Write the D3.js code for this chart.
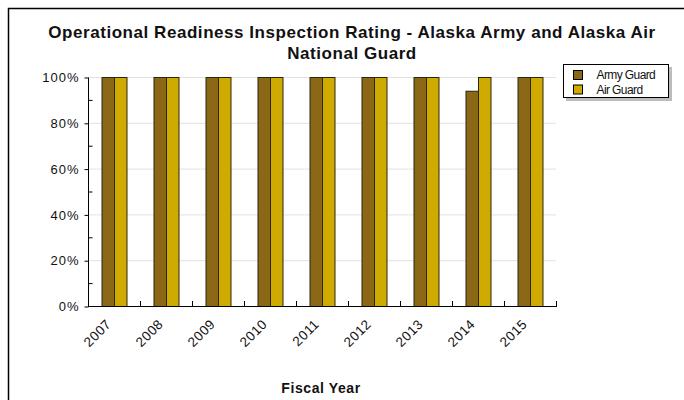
<!DOCTYPE html>
<html>
<head>
<meta charset="utf-8">
<script src="https://cdn.jsdelivr.net/npm/d3@7"></script>
<style>
  html, body { margin: 0; padding: 0; background: #fff; }
  svg { display: block; font-family: "Liberation Sans", Arial, sans-serif; }
</style>
</head>
<body>
<svg id="chart" width="684" height="400"></svg>
<script>
const years = ["2007","2008","2009","2010","2011","2012","2013","2014","2015"];
const seriesNames = ["Army Guard", "Air Guard"];
const armyGuard = [100, 100, 100, 100, 100, 100, 100, 94, 100];
const airGuard  = [100, 100, 100, 100, 100, 100, 100, 100, 100];
const yTicks = [0, 20, 40, 60, 80, 100];
const yMinorTicks = [10, 30, 50, 70, 90];
const colors = ["#8a6816", "#cfab00"];
const titleLines = ["Operational Readiness Inspection Rating - Alaska Army and Alaska Air", "National Guard"];
const xTitle = "Fiscal Year";

const svg = d3.select("#chart");
const m = {left: 88, right: 556, top: 77, bottom: 306};

// outer frame
svg.append("rect").attr("x", 8.5).attr("y", 8.5).attr("width", 700).attr("height", 420)
  .attr("fill", "none").attr("stroke", "#000").attr("stroke-width", 1.5);

const x = d3.scaleBand().domain(years).range([m.left, m.right]).paddingInner(0).paddingOuter(0);
const y = d3.scaleLinear().domain([0, 100]).range([m.bottom, m.top]);

// gridlines
svg.append("g").selectAll("line").data(yTicks.filter(d => d > 0)).join("line")
  .attr("x1", m.left).attr("x2", m.right)
  .attr("y1", d => y(d) + 0.5).attr("y2", d => y(d) + 0.5)
  .attr("stroke", "#e2e2e2").attr("stroke-width", 1);

// bars
const bw = 12.5;
const data = years.map((yr, i) => ({yr, vals: [armyGuard[i], airGuard[i]]}));
const groups = svg.append("g").selectAll("g").data(data).join("g");
groups.selectAll("rect").data(d => d.vals.map((v, k) => ({yr: d.yr, v, k}))).join("rect")
  .attr("x", d => x(d.yr) + x.bandwidth() / 2 - bw + d.k * bw + 0.5)
  .attr("y", d => y(d.v) + 0.5)
  .attr("width", bw)
  .attr("height", d => y(0) - y(d.v))
  .attr("fill", d => colors[d.k])
  .attr("stroke", "#2b2410").attr("stroke-width", 1);

// y axis
const yAxis = d3.axisLeft(y).tickValues(yTicks).tickFormat(d => d + "%").tickSize(4).tickPadding(5);
const gy = svg.append("g").attr("transform", `translate(${m.left + 0.5},0.5)`).call(yAxis);
gy.select(".domain").attr("stroke", "#000").attr("d", `M0,${m.top}V${m.bottom}`);
gy.selectAll("text").attr("font-size", 13).attr("letter-spacing", 1).attr("fill", "#111")
  .attr("font-family", "Liberation Sans, Arial, sans-serif");
// minor inward ticks
svg.append("g").selectAll("line").data(yMinorTicks).join("line")
  .attr("x1", m.left + 0.5).attr("x2", m.left + 4.5)
  .attr("y1", d => y(d) + 0.5).attr("y2", d => y(d) + 0.5)
  .attr("stroke", "#000");

// x axis
const bounds = years.map(d => x(d)).concat([m.right]);
svg.append("line").attr("x1", m.left).attr("x2", m.right + 1)
  .attr("y1", m.bottom + 0.5).attr("y2", m.bottom + 0.5).attr("stroke", "#000");
svg.append("g").selectAll("line").data(bounds.slice(1)).join("line")
  .attr("x1", d => Math.round(d) + 0.5).attr("x2", d => Math.round(d) + 0.5)
  .attr("y1", m.bottom).attr("y2", m.bottom - 5).attr("stroke", "#000");
const xAxis = d3.axisBottom(x).tickSize(0).tickPadding(0);
const gx = svg.append("g").attr("transform", `translate(0,${m.bottom})`).call(xAxis);
gx.select(".domain").remove();
gx.selectAll("text")
  .attr("font-size", 13.5).attr("letter-spacing", 0.5).attr("fill", "#111")
  .attr("font-family", "Liberation Sans, Arial, sans-serif")
  .attr("text-anchor", "end").attr("dy", 0)
  .attr("transform", "translate(-2,19) rotate(-45)");

// titles
svg.append("g").selectAll("text").data(titleLines).join("text")
  .attr("x", 352).attr("y", (d, i) => 38 + i * 21)
  .attr("text-anchor", "middle").attr("font-size", 17).attr("letter-spacing", 0.55)
  .attr("font-weight", "bold").attr("fill", "#111")
  .text(d => d);
svg.append("text").attr("x", 321).attr("y", 393).attr("text-anchor", "middle")
  .attr("font-size", 14).attr("letter-spacing", 0.6).attr("font-weight", "bold").attr("fill", "#111").text(xTitle);

// legend
const lg = svg.append("g");
lg.append("rect").attr("x", 566).attr("y", 67).attr("width", 106).attr("height", 34).attr("fill", "#bdbdbd");
lg.append("rect").attr("x", 563.5).attr("y", 64.5).attr("width", 105).attr("height", 33)
  .attr("fill", "#fff").attr("stroke", "#000");
const li = lg.selectAll("g.item").data(seriesNames).join("g").attr("class", "item")
  .attr("transform", (d, i) => `translate(573.5,${70.5 + i * 14.5})`);
li.append("rect").attr("width", 9).attr("height", 9).attr("fill", (d, i) => colors[i]).attr("stroke", "#000");
li.append("text").attr("x", 23).attr("y", 8.5).attr("font-size", 12).attr("letter-spacing", -0.6)
  .attr("fill", "#111").text(d => d);
</script>
</body>
</html>
